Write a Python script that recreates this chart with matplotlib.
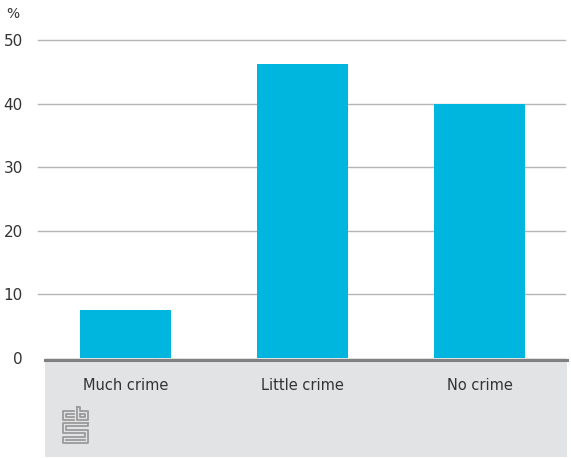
import matplotlib
matplotlib.use("Agg")
import matplotlib.pyplot as plt
from matplotlib.patches import Rectangle
from matplotlib.lines import Line2D

categories = ["Much crime", "Little crime", "No crime"]
values = [7.6, 46.2, 39.9]
yticks = [0, 10, 20, 30, 40, 50]

W, H = 571, 458
fig = plt.figure(figsize=(W / 100, H / 100), dpi=100)
fig.patch.set_facecolor("white")

def fx(px):
    return px / W

def fy(py):
    return (H - py) / H

# grey label box
fig.patches.append(Rectangle((fx(45), fy(457)), fx(567) - fx(45), fy(358) - fy(457),
                             transform=fig.transFigure, facecolor="#e2e3e5",
                             edgecolor="none", zorder=0))

ax = fig.add_axes([fx(38), fy(358), fx(565) - fx(38), fy(40) - fy(358)])
ax.set_facecolor("none")
x = list(range(len(categories)))
ax.bar(x, values, width=0.515, color="#00b5de", zorder=3)
ax.set_xlim(-0.494, 2.483)
ax.set_ylim(0, 50)
ax.set_yticks(yticks)
ax.set_yticklabels([str(t) for t in yticks], fontsize=11, color="#333333")
ax.tick_params(axis="y", length=0, pad=11)
ax.set_xticks([])
for s in ax.spines.values():
    s.set_visible(False)
for t in yticks[1:]:
    ax.axhline(t, color="#b5b5b5", lw=1.0, zorder=1, clip_on=False)

# baseline
fig.lines.append(Line2D([fx(45), fx(567)], [fy(359.5), fy(359.5)], transform=fig.transFigure,
                        color="#808080", lw=2.2, zorder=5))

# category labels
for i, c in enumerate(categories):
    xp = ax.transData.transform((i, 0))[0]
    fig.text(xp / W, fy(385), c, ha="center", va="center", fontsize=10.5, color="#333333")

fig.text(fx(6), fy(14), "%", ha="left", va="center", fontsize=10, color="#333333")

# simplified cbs logo
lc = "#9a9a9a"
lw = 1.3
segs = [
    # c
    [(74, 411), (63, 411), (63, 420), (74, 420)],
    [(74, 414), (66, 414), (66, 417), (74, 417)],
    # b
    [(77, 407), (77, 420), (88, 420), (88, 411), (80, 411), (80, 407), (77, 407)],
    [(80, 414), (85, 414), (85, 417), (80, 417), (80, 414)],
    # s meander
    [(88, 423), (63, 423), (63, 433), (85, 433), (85, 437), (63, 437), (63, 443), (88, 443),
     (88, 430), (66, 430), (66, 426), (88, 426), (88, 423)],
    [(66, 440), (85, 440)],
]
for seg in segs:
    xs = [fx(p[0]) for p in seg]
    ys = [fy(p[1]) for p in seg]
    fig.lines.append(Line2D(xs, ys, transform=fig.transFigure, color=lc, lw=lw, zorder=6))

fig.savefig("out.png", dpi=100)
